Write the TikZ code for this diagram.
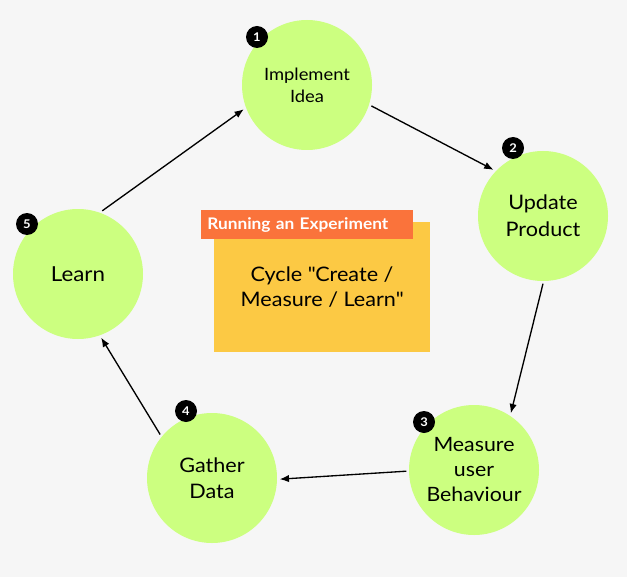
\documentclass[tikz,border=0pt]{standalone}
\usepackage{fontspec}
\setmainfont{Lato}[FakeStretch=1.08]
\usetikzlibrary{arrows.meta}
\definecolor{bg}{HTML}{F6F6F6}
\definecolor{leaf}{HTML}{CCFF80}
\definecolor{note}{HTML}{FCC944}
\definecolor{tag}{HTML}{FA733B}
\begin{document}
\begin{tikzpicture}[x=0.75pt,y=-0.75pt,
    stage/.style={circle,fill=leaf,minimum size=97.5pt,inner sep=0pt,
        outer sep=2pt,align=center},
    badge/.style={circle,fill=black,text=white,minimum size=16.5pt,
        inner sep=0pt,font=\fontsize{9}{9}\selectfont\bfseries},
    flow/.style={-{Latex[length=7pt,width=5.5pt]},line width=1pt}]

    % Background
    \fill[bg] (0,0) rectangle (627,577);
    \useasboundingbox (0,0) rectangle (627,577);

    % Note in the middle
    \node[fill=note,minimum width=162pt,minimum height=97.5pt,align=center,
        font=\fontsize{15}{19.3}\selectfont] (note) at (322,287)
        {Cycle \textquotedbl Create /\\Measure / Learn\textquotedbl};
    \node[fill=tag,anchor=north west,minimum height=21.75pt,text width=150pt,
        inner xsep=4.5pt,align=left,text=white,
        font=\fontsize{12}{12}\selectfont\bfseries] (tag) at (201,210)
        {Running an Experiment};

    % Stages
    \node[stage,font=\fontsize{12.75}{16.5}\selectfont] (implement) at (307,85) {Implement\\Idea};
    \node[stage,font=\fontsize{15}{20}\selectfont] (update) at (543,216) {Update\\Product};
    \node[stage,font=\fontsize{14.8}{18.75}\selectfont] (measure) at (474,470) {Measure\\user\\Behaviour};
    \node[stage,font=\fontsize{15}{19.5}\selectfont] (gather) at (212,478) {Gather\\Data};
    \node[stage,font=\fontsize{15.5}{19.5}\selectfont] (learn) at (78,274) {Learn};

    % Numbers
    \node[badge] (n1) at (257,37) {1};
    \node[badge] (n2) at (513,148) {2};
    \node[badge] (n3) at (424,422) {3};
    \node[badge] (n4) at (186,411) {4};
    \node[badge] (n5) at (27,224) {5};

    % Arrows
    \draw[flow] (learn.69) -- (implement.201);
    \draw[flow] (implement.342) -- (update.137);
    \draw[flow] (update.270) -- (measure.57);
    \draw[flow] (measure.181) -- (gather.359);
    \draw[flow] (gather.140) -- (learn.290);

\end{tikzpicture}
\end{document}
